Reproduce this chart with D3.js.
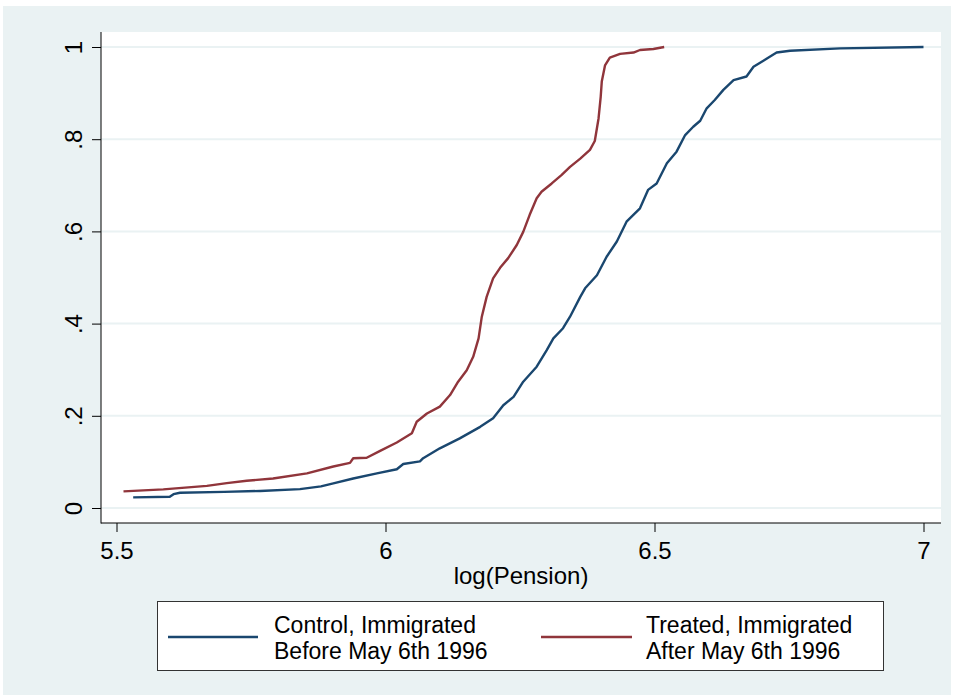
<!DOCTYPE html>
<html>
<head>
<meta charset="utf-8">
<script src="https://cdn.jsdelivr.net/npm/d3@7/dist/d3.min.js"></script>
<style>
  html, body { margin: 0; padding: 0; background: #ffffff; }
  svg text { font-family: "Liberation Sans", Arial, Helvetica, sans-serif; fill: #000; }
</style>
</head>
<body>
<svg id="chart" width="954" height="699"></svg>
<script>
// Empirical CDF of log(Pension) for the two immigration cohorts
const controlLogPension = [5.531, 5.599, 5.606, 5.618, 5.700, 5.767, 5.841, 5.880, 5.903, 5.940,
  5.984, 6.021, 6.033, 6.064, 6.070, 6.101, 6.138, 6.176, 6.200, 6.219, 6.238, 6.256, 6.281,
  6.300, 6.312, 6.330, 6.343, 6.362, 6.371, 6.393, 6.411, 6.430, 6.448, 6.473, 6.488, 6.504,
  6.523, 6.541, 6.557, 6.572, 6.585, 6.597, 6.612, 6.628, 6.647, 6.671, 6.684, 6.709, 6.727,
  6.752, 6.845, 7.000];
const controlCdf = [0.023, 0.0245, 0.030, 0.033, 0.035, 0.037, 0.041, 0.047, 0.0535, 0.064,
  0.075, 0.084, 0.0954, 0.101, 0.108, 0.1295, 0.151, 0.176, 0.1945, 0.223, 0.241, 0.274, 0.3065,
  0.343, 0.368, 0.390, 0.415, 0.458, 0.4766, 0.505, 0.545, 0.578, 0.621, 0.650, 0.690, 0.704,
  0.748, 0.773, 0.809, 0.827, 0.840, 0.867, 0.885, 0.907, 0.928, 0.936, 0.957, 0.975, 0.988,
  0.992, 0.997, 1.000];

const treatedLogPension = [5.513, 5.587, 5.668, 5.705, 5.742, 5.791, 5.854, 5.903, 5.934, 5.940,
  5.965, 5.990, 6.021, 6.049, 6.058, 6.077, 6.101, 6.120, 6.135, 6.151, 6.163, 6.173, 6.179,
  6.188, 6.200, 6.213, 6.228, 6.244, 6.256, 6.268, 6.281, 6.290, 6.309, 6.327, 6.343, 6.362,
  6.380, 6.389, 6.396, 6.400, 6.402, 6.408, 6.417, 6.436, 6.461, 6.473, 6.498, 6.518];
const treatedCdf = [0.036, 0.0405, 0.048, 0.054, 0.059, 0.064, 0.075, 0.090, 0.098, 0.108,
  0.109, 0.124, 0.142, 0.162, 0.187, 0.205, 0.220, 0.245, 0.274, 0.299, 0.328, 0.368, 0.415,
  0.458, 0.498, 0.521, 0.542, 0.5705, 0.599, 0.636, 0.672, 0.686, 0.704, 0.722, 0.740, 0.758,
  0.777, 0.796, 0.845, 0.892, 0.925, 0.960, 0.977, 0.985, 0.988, 0.9935, 0.9957, 1.000];

const xTicks = [5.5, 6, 6.5, 7];
const xTickLabels = ["5.5", "6", "6.5", "7"];
const yTicks = [0, 0.2, 0.4, 0.6, 0.8, 1];
const yTickLabels = ["0", ".2", ".4", ".6", ".8", "1"];

const seriesNames = ["Control, Immigrated|Before May 6th 1996", "Treated, Immigrated|After May 6th 1996"];
const seriesColors = ["#1a476f", "#90353b"];
const xTitle = "log(Pension)";

const svg = d3.select("#chart");
const W = 954, H = 699;
const frame = { left: 101, right: 941, top: 32, bottom: 523 };
const fontSize = "24px";
const legendFontSize = "23px";

// outer graph region
svg.append("rect").attr("x", 3).attr("y", 6).attr("width", W - 6).attr("height", H - 10)
  .attr("fill", "#eaf2f3");
// plot region
svg.append("rect").attr("x", frame.left).attr("y", frame.top)
  .attr("width", frame.right - frame.left).attr("height", frame.bottom - frame.top)
  .attr("fill", "#ffffff");

const x = d3.scaleLinear().domain([5.5, 7]).range([116.5, 923.5]);
const y = d3.scaleLinear().domain([0, 1]).range([508, 47]);

// horizontal grid lines
svg.append("g").selectAll("line").data(yTicks).join("line")
  .attr("x1", frame.left).attr("x2", frame.right)
  .attr("y1", d => y(d)).attr("y2", d => y(d))
  .attr("stroke", "#eaf2f3").attr("stroke-width", 2);

// curves
const line = d3.line().x(d => x(d[0])).y(d => y(d[1]));
const series = [
  d3.zip(controlLogPension, controlCdf),
  d3.zip(treatedLogPension, treatedCdf)
];
svg.append("g").selectAll("path").data(series).join("path")
  .attr("d", line)
  .attr("fill", "none")
  .attr("stroke", (d, i) => seriesColors[i])
  .attr("stroke-width", 2.4)
  .attr("stroke-linejoin", "round");

// y axis
const yAxis = svg.append("g").attr("transform", `translate(${frame.left},0)`)
  .call(d3.axisLeft(y).tickValues(yTicks).tickSize(9)
    .tickFormat((d, i) => yTickLabels[i]));
yAxis.select(".domain").remove();
yAxis.selectAll(".tick line").attr("stroke", "#000").attr("stroke-width", 1);
yAxis.selectAll(".tick text")
  .attr("transform", "rotate(-90)")
  .attr("x", 0).attr("y", -19).attr("dy", 0)
  .attr("text-anchor", "middle")
  .style("font-size", fontSize);
svg.append("line").attr("x1", frame.left).attr("x2", frame.left)
  .attr("y1", frame.top).attr("y2", frame.bottom + 0.5)
  .attr("stroke", "#000").attr("stroke-width", 1);

// x axis
const xAxis = svg.append("g").attr("transform", `translate(0,${frame.bottom})`)
  .call(d3.axisBottom(x).tickValues(xTicks).tickSize(9)
    .tickFormat((d, i) => xTickLabels[i]));
xAxis.select(".domain").remove();
xAxis.selectAll(".tick line").attr("stroke", "#000").attr("stroke-width", 1);
xAxis.selectAll(".tick text")
  .attr("y", 36).attr("dy", 0)
  .style("font-size", fontSize);
svg.append("line").attr("x1", frame.left).attr("x2", frame.right)
  .attr("y1", frame.bottom).attr("y2", frame.bottom)
  .attr("stroke", "#000").attr("stroke-width", 1);

svg.append("text").attr("x", (frame.left + frame.right) / 2).attr("y", 584)
  .attr("text-anchor", "middle").style("font-size", fontSize).text(xTitle);

// legend: two-line labels beside each key
const legend = svg.append("g");
legend.append("rect").attr("x", 157.5).attr("y", 601.5).attr("width", 726).attr("height", 69)
  .attr("fill", "#ffffff").attr("stroke", "#333").attr("stroke-width", 1);
const legendKeys = [
  { x1: 168, x2: 258, tx: 274 },
  { x1: 541, x2: 632, tx: 646 }
];
legendKeys.forEach((k, i) => {
  legend.append("line").attr("x1", k.x1).attr("x2", k.x2).attr("y1", 637).attr("y2", 637)
    .attr("stroke", seriesColors[i]).attr("stroke-width", 2.6);
  seriesNames[i].split("|").forEach((s, j) => {
    legend.append("text").attr("x", k.tx).attr("y", 633 + j * 26)
      .style("font-size", legendFontSize).text(s);
  });
});
</script>
</body>
</html>
